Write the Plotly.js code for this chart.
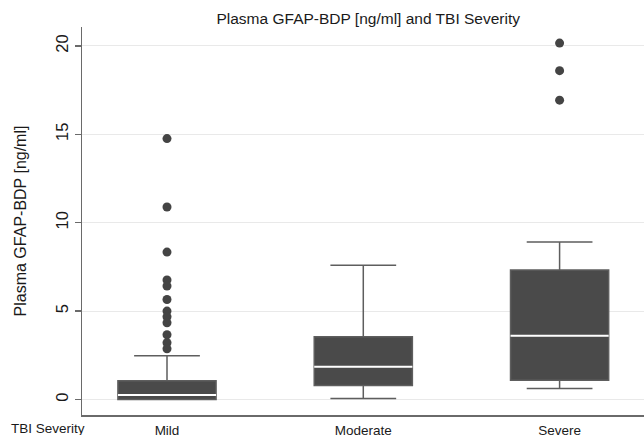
<!DOCTYPE html>
<html>
<head>
<meta charset="utf-8">
<script src="https://cdn.plot.ly/plotly-3.0.1.min.js"></script>
<style>
html,body{margin:0;padding:0;background:#fff;}
#chart{width:644px;height:435px;}
</style>
</head>
<body>
<div id="chart"></div>
<script>
// Data
const categories = ["Mild", "Moderate", "Severe"];
const q1Values = [0.0, 0.79, 1.09];
const medianValues = [0.26, 1.85, 3.61];
const q3Values = [1.06, 3.55, 7.32];
const lowerWhisker = [0.0, 0.06, 0.62];
const upperWhisker = [2.47, 7.59, 8.91];
const outlierGroup = ["Mild","Mild","Mild","Mild","Mild","Mild","Mild","Mild","Mild","Mild","Mild","Mild","Severe","Severe","Severe"];
const outlierValues = [14.76, 10.89, 8.34, 6.76, 6.42, 5.66, 5.0, 4.68, 4.34, 3.66, 3.21, 2.87, 20.16, 18.6, 16.93];
const yTicks = [0, 5, 10, 15, 20];

const catIndex = categories.map((c, i) => i);
const boxHalf = 0.25;

// median segments (white line inside each box)
const medX = [], medY = [];
catIndex.forEach((i) => {
  medX.push(i - boxHalf, i + boxHalf, null);
  medY.push(medianValues[i], medianValues[i], null);
});

const traces = [
  {
    type: "box",
    x: catIndex,
    q1: q1Values,
    median: medianValues,
    q3: q3Values,
    lowerfence: lowerWhisker,
    upperfence: upperWhisker,
    width: boxHalf * 2,
    whiskerwidth: 0.67,
    boxpoints: false,
    fillcolor: "#4a4a4a",
    line: { color: "#5e5e5e", width: 1.5 },
    hoverinfo: "skip",
    showlegend: false
  },
  {
    type: "scatter",
    mode: "lines",
    x: medX,
    y: medY,
    line: { color: "#ffffff", width: 2 },
    hoverinfo: "skip",
    showlegend: false
  },
  {
    type: "scatter",
    mode: "markers",
    x: outlierGroup.map((g) => categories.indexOf(g)),
    y: outlierValues,
    marker: { color: "#444444", size: 9 },
    hoverinfo: "skip",
    showlegend: false
  }
];

const layout = {
  width: 644,
  height: 435,
  margin: { l: 82, r: 0, t: 27, b: 20 },
  paper_bgcolor: "#ffffff",
  plot_bgcolor: "#ffffff",
  font: { family: "Liberation Sans, Arial, sans-serif", color: "#1a1a1a" },
  showlegend: false,
  title: {
    text: "Plasma GFAP-BDP [ng/ml] and TBI Severity",
    font: { size: 15.5, color: "#1a1a1a" },
    x: 0.5718,
    xanchor: "center",
    y: 0.958,
    yanchor: "middle"
  },
  xaxis: {
    range: [-0.433, 2.43],
    tickvals: catIndex,
    ticktext: categories,
    showgrid: false,
    zeroline: false,
    showline: true,
    linecolor: "#6a6a6a",
    linewidth: 1.5,
    ticks: "",
    ticklabelstandoff: 2,
    tickfont: { size: 13.5, color: "#1a1a1a" },
    fixedrange: true
  },
  yaxis: {
    range: [-0.876, 21.07],
    tickvals: yTicks,
    ticktext: yTicks.map(String),
    tickangle: -90,
    showgrid: true,
    gridcolor: "#e9e9e9",
    gridwidth: 1,
    zeroline: false,
    showline: true,
    linecolor: "#6a6a6a",
    linewidth: 1.5,
    ticks: "outside",
    ticklen: 6,
    tickcolor: "#6a6a6a",
    tickwidth: 1.5,
    tickfont: { size: 16.5, color: "#1a1a1a" },
    title: {
      text: "Plasma GFAP-BDP [ng/ml]",
      font: { size: 16, color: "#1a1a1a" },
      standoff: 22
    },
    fixedrange: true
  },
  annotations: [
    {
      text: "TBI Severity",
      xref: "paper",
      yref: "paper",
      x: -0.06,
      y: -0.036,
      xanchor: "center",
      yanchor: "middle",
      showarrow: false,
      font: { size: 13.5, color: "#1a1a1a" }
    }
  ]
};

Plotly.newPlot("chart", traces, layout, { displayModeBar: false, staticPlot: true });
</script>
</body>
</html>
